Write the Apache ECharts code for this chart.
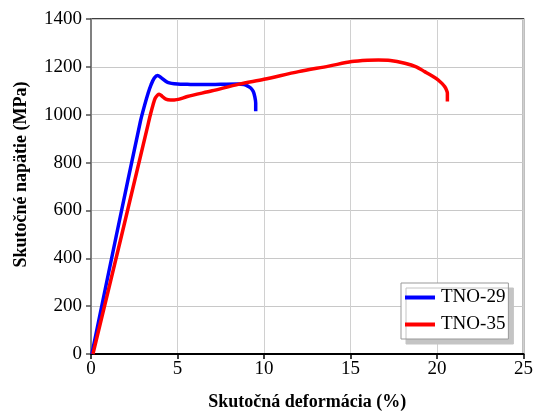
<!DOCTYPE html>
<html>
<head>
<meta charset="utf-8">
<style>
  html, body { margin: 0; padding: 0; background: #ffffff; }
  #chart { width: 536px; height: 416px; }
</style>
<script src="https://cdn.jsdelivr.net/npm/echarts@6/dist/echarts.min.js"></script>
</head>
<body>
<div id="chart"></div>
<script>
// True stress–strain curves of two specimens
const seriesNames = ['TNO-29', 'TNO-35'];

// TNO-29: true strain (%) and true stress (MPa)
const tno29Strain = [0.05, 1.45, 2.85, 3.10, 3.30, 3.47, 3.66, 3.85, 4.05, 4.43, 5.00, 5.57, 6.50, 7.50, 8.50, 8.85, 9.10, 9.24, 9.38, 9.47, 9.52, 9.52];
const tno29Stress = [0, 490, 970, 1040, 1090, 1125, 1153, 1164, 1155, 1135, 1128, 1127, 1126, 1127, 1128, 1126, 1118, 1111, 1097, 1075, 1049, 1014];

// TNO-35: true strain (%) and true stress (MPa)
const tno35Strain = [0.11, 1.75, 3.30, 3.45, 3.58, 3.72, 3.94, 4.10, 4.33, 4.60, 4.81, 5.11, 5.57, 7.00, 8.56, 10.00, 12.00, 13.74, 15.07, 16.00, 16.61, 17.30, 18.14, 18.80, 19.29, 19.70, 20.06, 20.30, 20.44, 20.55, 20.60, 20.60];
const tno35Stress = [0, 490, 960, 1005, 1040, 1070, 1086, 1078, 1065, 1062, 1062, 1065, 1076, 1100, 1128, 1148, 1180, 1203, 1222, 1228, 1229, 1227, 1215, 1200, 1180, 1163, 1146, 1130, 1118, 1103, 1090, 1055];

// Axis titles and ranges [min, max, step]
const xAxisTitle = 'Skutočná deformácia (%)';
const yAxisTitle = 'Skutočné napätie (MPa)';
const xRange = [0, 25, 5];
const yRange = [0, 1400, 200];

const pairs = (xs, ys) => xs.map((x, i) => [x, ys[i]]);

const serif = '"Liberation Serif", "Times New Roman", serif';
const chart = echarts.init(document.getElementById('chart'), null, { renderer: 'canvas' });

chart.setOption({
  animation: false,
  backgroundColor: '#ffffff',
  textStyle: { fontFamily: serif, color: '#000' },
  grid: {
    left: 91, right: 10, top: 19, bottom: 61,
    show: true,
    borderColor: '#000',
    borderWidth: 1.5,
    backgroundColor: 'transparent'
  },
  legend: {
    data: seriesNames,
    orient: 'vertical',
    left: 401,
    top: 283,
    padding: [5, 3, 5, 4],
    itemGap: 8,
    itemWidth: 30,
    itemHeight: 4,
    icon: 'rect',
    backgroundColor: '#ffffff',
    borderColor: '#999999',
    borderWidth: 1,
    borderRadius: 0,
    shadowColor: '#c4c4c4',
    shadowBlur: 0,
    shadowOffsetX: 5,
    shadowOffsetY: 5,
    textStyle: { fontFamily: serif, fontSize: 19, color: '#000', padding: [0, 0, 0, 1] }
  },
  xAxis: {
    type: 'value',
    min: xRange[0], max: xRange[1], interval: xRange[2],
    name: xAxisTitle,
    nameLocation: 'middle',
    nameGap: 39,
    nameTextStyle: { fontFamily: serif, fontSize: 18, fontWeight: 'bold', color: '#000' },
    axisLine: { show: true, onZero: false, lineStyle: { color: '#000', width: 2 } },
    axisTick: { show: true, inside: false, length: 5, lineStyle: { color: '#000', width: 1.5 } },
    axisLabel: { margin: 6, fontFamily: serif, fontSize: 19, color: '#000', formatter: v => String(v) },
    splitLine: { show: true, lineStyle: { color: '#d0d0d0', width: 1 } }
  },
  yAxis: {
    type: 'value',
    min: yRange[0], max: yRange[1], interval: yRange[2],
    name: yAxisTitle,
    nameLocation: 'middle',
    nameRotate: 90,
    nameGap: 61,
    nameTextStyle: { fontFamily: serif, fontSize: 18, fontWeight: 'bold', color: '#000', padding: [0, 0, 0, 24] },
    axisLine: { show: true, onZero: false, lineStyle: { color: '#808080', width: 2 } },
    axisTick: { show: true, inside: false, length: 5, lineStyle: { color: '#505050', width: 1.5 } },
    axisLabel: { margin: 9, fontFamily: serif, fontSize: 19, color: '#000', formatter: v => String(v) },
    splitLine: { show: true, lineStyle: { color: '#c8c8c8', width: 1 } }
  },
  series: [
    {
      name: seriesNames[0],
      type: 'line',
      data: pairs(tno29Strain, tno29Stress),
      smooth: 0.3,
      showSymbol: false,
      symbol: 'none',
      color: '#0000ff',
      lineStyle: { color: '#0000ff', width: 3.5 },
      z: 3
    },
    {
      name: seriesNames[1],
      type: 'line',
      data: pairs(tno35Strain, tno35Stress),
      smooth: 0.3,
      showSymbol: false,
      symbol: 'none',
      color: '#ff0000',
      lineStyle: { color: '#ff0000', width: 3.5 },
      z: 4
    }
  ]
});
</script>
</body>
</html>
